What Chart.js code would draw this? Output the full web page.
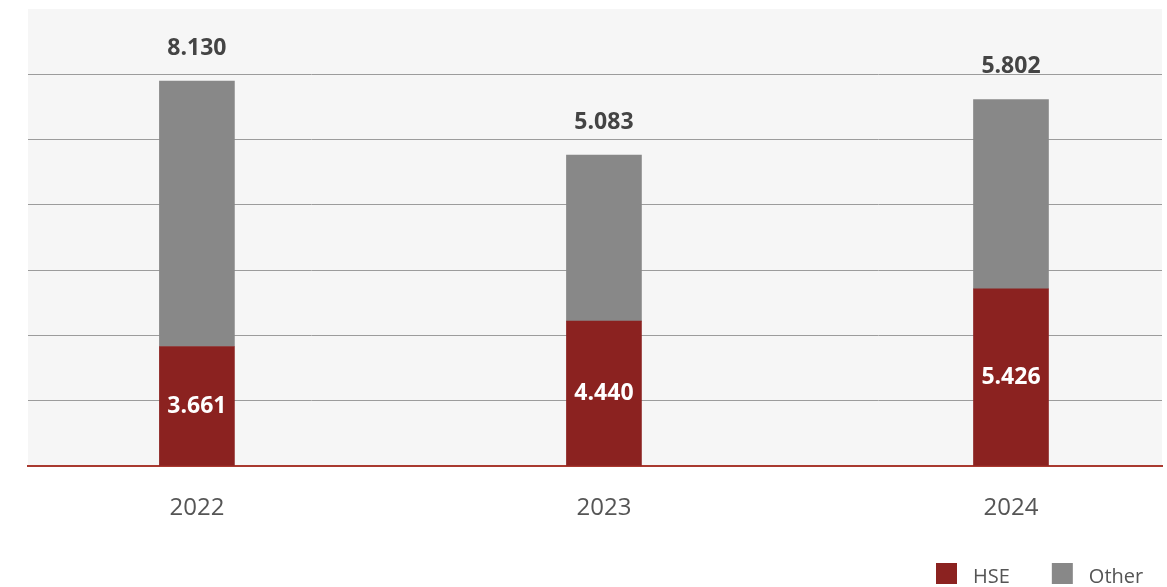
<!DOCTYPE html>
<html>
<head>
<meta charset="utf-8">
<title>HSE vs Other</title>
<script src="https://cdn.jsdelivr.net/npm/chart.js@4.4.1/dist/chart.umd.min.js"></script>
<style>
  html, body { margin: 0; padding: 0; background: #fff; overflow: hidden; }
  canvas { display: block; }
</style>
</head>
<body>
<canvas id="mainChart" width="1167" height="600"></canvas>
<script>
// yearly figures, thousands
const years = ['2022', '2023', '2024'];
const hseValues = [3.661, 4.440, 5.426];
const otherValues = [8.130, 5.083, 5.802];
const seriesNames = ['HSE', 'Other'];
const seriesColors = ['#8b2220', '#888888'];

const fmt = v => v.toFixed(3);

// grey panel behind the plot
const panelBackground = {
  id: 'panelBackground',
  beforeDraw(chart) {
    const { ctx, chartArea } = chart;
    ctx.save();
    ctx.fillStyle = '#f6f6f6';
    ctx.fillRect(chartArea.left, chartArea.top, chartArea.right - chartArea.left, chartArea.bottom - chartArea.top);
    ctx.restore();
  }
};

// HSE value inside the red bar, Other value above the stack
const valueLabels = {
  id: 'valueLabels',
  afterDatasetsDraw(chart) {
    const ctx = chart.ctx;
    ctx.save();
    ctx.font = 'bold 23px "Open Sans"';
    ctx.textAlign = 'center';
    ctx.textBaseline = 'middle';
    chart.getDatasetMeta(0).data.forEach((bar, i) => {
      ctx.fillStyle = '#ffffff';
      ctx.fillText(fmt(hseValues[i]), bar.x, (bar.y + bar.base) / 2);
    });
    chart.getDatasetMeta(1).data.forEach((bar, i) => {
      ctx.fillStyle = '#444444';
      ctx.fillText(fmt(otherValues[i]), bar.x, bar.y - 33);
    });
    ctx.restore();
  }
};

// legend in the bottom right corner
const cornerLegend = {
  id: 'cornerLegend',
  afterDraw(chart) {
    const ctx = chart.ctx;
    let x = 936;
    const top = 563, box = 21;
    ctx.save();
    ctx.font = '20px "Open Sans"';
    ctx.textBaseline = 'middle';
    ctx.textAlign = 'left';
    chart.data.datasets.forEach(ds => {
      ctx.fillStyle = ds.backgroundColor;
      ctx.fillRect(x, top, box, box);
      x += box + 16;
      ctx.fillStyle = '#555555';
      ctx.fillText(ds.label, x, top + box / 2 + 4);
      x += ctx.measureText(ds.label).width + 42;
    });
    ctx.restore();
  }
};

const toPoints = values => values.map((v, i) => ({ x: i, y: v }));

Chart.defaults.font.family = '"Open Sans", sans-serif';

new Chart(document.getElementById('mainChart'), {
  type: 'bar',
  data: {
    datasets: [
      {
        label: seriesNames[0],
        data: toPoints(hseValues),
        backgroundColor: seriesColors[0],
        stack: 'total',
        barThickness: 75
      },
      {
        label: seriesNames[1],
        data: toPoints(otherValues),
        backgroundColor: seriesColors[1],
        stack: 'total',
        barThickness: 75
      }
    ]
  },
  options: {
    responsive: false,
    animation: false,
    layout: { padding: { left: 28, right: 5, top: 9, bottom: 0 } },
    plugins: {
      legend: { display: false },
      tooltip: { enabled: false }
    },
    scales: {
      x: {
        type: 'linear',
        stacked: true,
        offset: false,
        min: -0.415,
        max: 2.371,
        afterBuildTicks: scale => {
          scale.ticks = years.map((y, i) => ({ value: i }));
        },
        afterFit: scale => { scale.height = 134; },
        grid: { display: false, drawTicks: false },
        border: { color: '#a93a30', width: 2 },
        ticks: {
          padding: 28,
          color: '#555555',
          font: { size: 24 },
          callback: v => years[v]
        }
      },
      y: {
        stacked: true,
        min: 0,
        max: 14,
        ticks: { display: false, stepSize: 2 },
        border: { display: false },
        grid: {
          drawTicks: false,
          lineWidth: 1,
          color: c => (c.tick.value === 0 || c.tick.value === 14) ? 'rgba(0,0,0,0)' : '#9c9c9c'
        }
      }
    }
  },
  plugins: [panelBackground, valueLabels, cornerLegend]
});
</script>
</body>
</html>
